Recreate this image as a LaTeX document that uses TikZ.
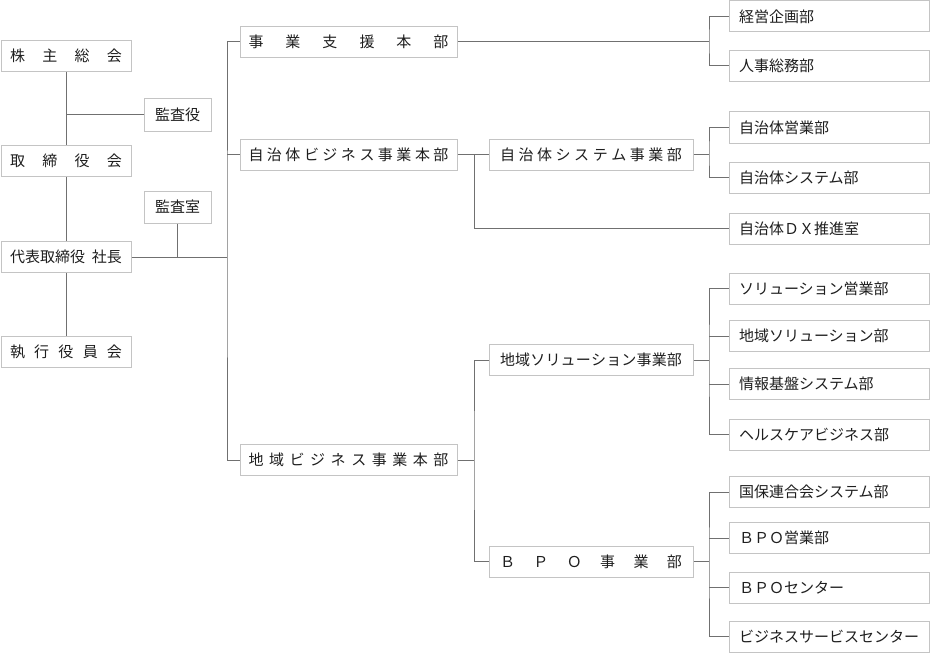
\documentclass[tikz,border=0pt]{standalone}
\usepackage{fontspec}
\setmainfont{Noto Sans CJK JP}
\definecolor{linegray}{HTML}{707070}
\definecolor{boxgray}{HTML}{C4C4C4}
\definecolor{textblack}{HTML}{1E1E1E}
\newcommand\dept[1]{\makebox[180pt][l]{#1}}

\begin{document}
\begin{tikzpicture}[x=1pt, y=-1pt,
  orgbox/.style={draw=boxgray, line width=1pt, fill=white, inner sep=0pt, minimum height=31pt, text=textblack, font=\fontsize{15pt}{18pt}\selectfont},
  topbox/.style={orgbox, minimum width=130pt},
  auditbox/.style={orgbox, minimum width=67pt, minimum height=32pt},
  hqbox/.style={orgbox, minimum width=217pt},
  divbox/.style={orgbox, minimum width=204pt},
  deptbox/.style={orgbox, minimum width=200pt, inner xsep=10pt},
  conn/.style={draw=linegray, line width=1pt}
]
\useasboundingbox (0,0) rectangle (930,661);

% Governance
\node[topbox] (kabunushi) at (66,56) {\makebox[112pt][s]{株\hfill 主\hfill 総\hfill 会}};
\node[auditbox] (kansayaku) at (177.5,115) {監査役};
\node[topbox] (torishimari) at (66,161) {\makebox[112pt][s]{取\hfill 締\hfill 役\hfill 会}};
\node[auditbox] (kansashitsu) at (177.5,207) {監査室};
\node[topbox] (shacho) at (66,257) {\makebox[112pt][s]{代表取締役\hfill 社長}};
\node[topbox] (shikko) at (66,352) {\makebox[112pt][s]{執\hfill 行\hfill 役\hfill 員\hfill 会}};

% Headquarters
\node[hqbox] (shien) at (348.5,42) {\makebox[200pt][s]{事\hfill 業\hfill 支\hfill 援\hfill 本\hfill 部}};
\node[hqbox] (jichitaihq) at (348.5,154.5) {\makebox[200pt][s]{自\hfill 治\hfill 体\hfill ビ\hfill ジ\hfill ネ\hfill ス\hfill 事\hfill 業\hfill 本\hfill 部}};
\node[hqbox] (chiikihq) at (348.5,460) {\makebox[200pt][s]{地\hfill 域\hfill ビ\hfill ジ\hfill ネ\hfill ス\hfill 事\hfill 業\hfill 本\hfill 部}};

% Divisions
\node[divbox] (jichitaisys) at (591,154.5) {\makebox[182pt][s]{自\hfill 治\hfill 体\hfill シ\hfill ス\hfill テ\hfill ム\hfill 事\hfill 業\hfill 部}};
\node[divbox] (chiikisol) at (591,360) {\makebox[182pt][s]{地\hfill 域\hfill ソ\hfill リ\hfill ュ\hfill ー\hfill シ\hfill ョ\hfill ン\hfill 事\hfill 業\hfill 部}};
\node[divbox] (bpo) at (591,561.5) {\makebox[182pt][s]{Ｂ\hfill Ｐ\hfill Ｏ\hfill 事\hfill 業\hfill 部}};

% Departments
\node[deptbox] (keiei) at (829,16.5) {\dept{経営企画部}};
\node[deptbox] (jinji) at (829,66) {\dept{人事総務部}};
\node[deptbox] (jichieigyo) at (829,127.5) {\dept{自治体営業部}};
\node[deptbox] (jichisysbu) at (829,177.5) {\dept{自治体システム部}};
\node[deptbox] (dx) at (829,228.5) {\dept{自治体ＤＸ推進室}};
\node[deptbox] (soleigyo) at (829,288.5) {\dept{ソリューション営業部}};
\node[deptbox] (chiikisolbu) at (829,336) {\dept{地域ソリューション部}};
\node[deptbox] (joho) at (829,384) {\dept{情報基盤システム部}};
\node[deptbox] (health) at (829,434.5) {\dept{ヘルスケアビジネス部}};
\node[deptbox] (kokuho) at (829,492) {\dept{国保連合会システム部}};
\node[deptbox] (bpoeigyo) at (829,538) {\dept{ＢＰＯ営業部}};
\node[deptbox] (bpocenter) at (829,587.5) {\dept{ＢＰＯセンター}};
\node[deptbox] (bizsvc) at (829,636.5) {\dept{ビジネスサービスセンター}};

% Junctions
\coordinate (spine) at (227,257);
\coordinate (jshien) at (709,42);
\coordinate (jjichi) at (474,154.5);
\coordinate (jjichisys) at (709,154.5);
\coordinate (jchiiki) at (474,460);
\coordinate (jsol) at (709,360);
\coordinate (jbpo) at (709,561.5);

% Connectors
\draw[conn] (kabunushi.south) -- (torishimari.north);
\draw[conn] (torishimari.south) -- (shacho.north);
\draw[conn] (shacho.south) -- (shikko.north);
\draw[conn] (kansayaku.west) -- (kansayaku.west -| kabunushi.south);
\draw[conn] (kansashitsu.south) -- (kansashitsu.south |- shacho.east);
\draw[conn] (shacho.east) -- (spine);
\draw[conn] (shien.west) -| (spine) |- (chiikihq.west);
\draw[conn] (jichitaihq.west) -- (jichitaihq.west -| spine);

\draw[conn] (shien.east) -- (jshien);
\draw[conn] (keiei.west) -| (jshien) |- (jinji.west);

\draw[conn] (jichitaihq.east) -- (jichitaisys.west);
\draw[conn] (jjichi) |- (dx.west);
\draw[conn] (jichitaisys.east) -- (jjichisys);
\draw[conn] (jichieigyo.west) -| (jjichisys) |- (jichisysbu.west);

\draw[conn] (chiikihq.east) -- (jchiiki);
\draw[conn] (chiikisol.west) -| (jchiiki) |- (bpo.west);
\draw[conn] (chiikisol.east) -- (jsol);
\draw[conn] (soleigyo.west) -| (jsol) |- (health.west);
\draw[conn] (chiikisolbu.west) -- (chiikisolbu.west -| jsol);
\draw[conn] (joho.west) -- (joho.west -| jsol);
\draw[conn] (bpo.east) -- (jbpo);
\draw[conn] (kokuho.west) -| (jbpo) |- (bizsvc.west);
\draw[conn] (bpoeigyo.west) -- (bpoeigyo.west -| jbpo);
\draw[conn] (bpocenter.west) -- (bpocenter.west -| jbpo);

\end{tikzpicture}
\end{document}
